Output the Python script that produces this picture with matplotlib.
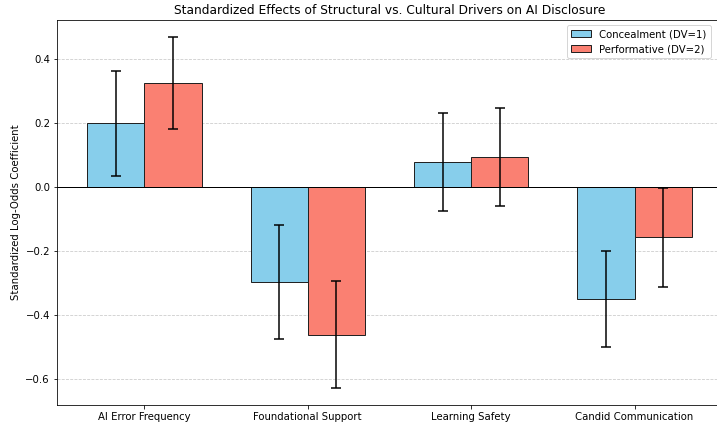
import matplotlib
matplotlib.use("Agg")
import matplotlib.pyplot as plt
import numpy as np

categories = ["AI Error Frequency", "Foundational Support", "Learning Safety", "Candid Communication"]
concealment = [0.200, -0.297, 0.078, -0.350]
conc_lo = [0.035, -0.475, -0.075, -0.500]
conc_hi = [0.362, -0.119, 0.232, -0.200]
performative = [0.324, -0.460, 0.094, -0.156]
perf_lo = [0.181, -0.625, -0.060, -0.311]
perf_hi = [0.467, -0.294, 0.247, -0.003]

plt.rcParams['font.size'] = 10.15

fig = plt.figure(figsize=(717/72, 426/72), dpi=72)
ax = fig.add_axes([57/717, 21/426, 665/717, 385/426])

x = np.arange(len(categories))
w = 0.35
conc = np.array(concealment); perf = np.array(performative)
cerr = [conc - np.array(conc_lo), np.array(conc_hi) - conc]
perr = [perf - np.array(perf_lo), np.array(perf_hi) - perf]

ax.bar(x - w/2, conc, w, yerr=cerr, capsize=5, color="skyblue", edgecolor="#222222",
       linewidth=1, label="Concealment (DV=1)", error_kw=dict(elinewidth=1.5, capthick=1.5, ecolor="black"))
ax.bar(x + w/2, perf, w, yerr=perr, capsize=5, color="salmon", edgecolor="#222222",
       linewidth=1, label="Performative (DV=2)", error_kw=dict(elinewidth=1.5, capthick=1.5, ecolor="black"))

ax.axhline(0, color="black", linewidth=1)
ax.set_xticks(x)
ax.set_xticklabels(categories)
ax.set_ylabel("Standardized Log-Odds Coefficient")
ax.set_title("Standardized Effects of Structural vs. Cultural Drivers on AI Disclosure", fontsize=12.2)
ax.yaxis.grid(True, linestyle="--", alpha=1.0, color="#cbcbcb", linewidth=0.8)
ax.set_axisbelow(True)
ax.spines['right'].set_visible(False)
ax.legend(loc="upper right", bbox_to_anchor=(717/665 - 57/665 - 0.002, 1.0))

fig.savefig("out.png", dpi=72)
